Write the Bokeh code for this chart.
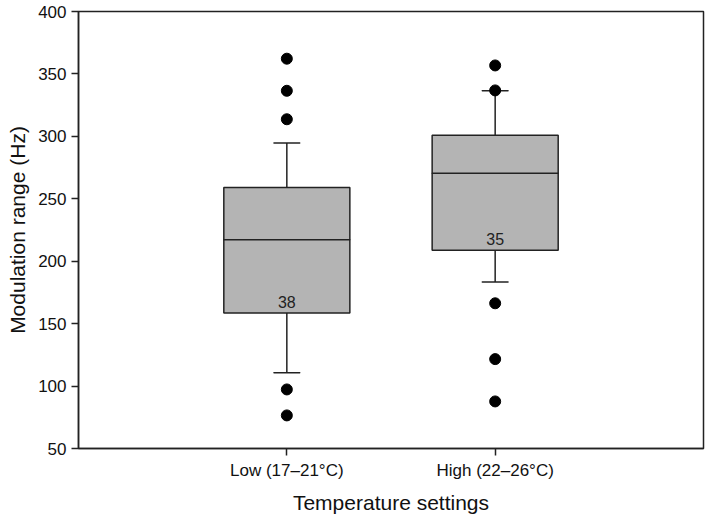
from bokeh.plotting import figure
from bokeh.models import ColumnDataSource, FixedTicker
from bokeh.core.properties import value
from bokeh.embed import file_html
from bokeh.resources import INLINE

categories = ["Low (17–21°C)", "High (22–26°C)"]
positions = [1, 2]
q1 = [158.6, 208.7]
median = [217.2, 270.5]
q3 = [259.0, 300.9]
whisker_low = [110.6, 183.4]
whisker_high = [294.7, 336.5]
outliers_low_group = [362.2, 336.5, 313.7, 97.3, 76.5]
outliers_high_group = [356.8, 336.8, 166.3, 121.6, 87.7]
n_labels = ["38", "35"]

FONT = "Liberation Sans"
LINE = "#222222"

p = figure(width=709, height=518, output_backend="svg", toolbar_location=None,
           x_range=(0, 3), y_range=(50, 400),
           min_border_left=78, min_border_right=6, min_border_top=11, min_border_bottom=70)

src = ColumnDataSource(dict(x=positions, q1=q1, med=median, q3=q3,
                            lo=whisker_low, hi=whisker_high, n=n_labels))

# whiskers
p.segment(x0="x", y0="q3", x1="x", y1="hi", source=src, line_color=LINE, line_width=1.5)
p.segment(x0="x", y0="lo", x1="x", y1="q1", source=src, line_color=LINE, line_width=1.5)
p.rect(x="x", y="hi", width=0.125, height=0.01, height_units="screen", source=src,
       line_color=LINE, line_width=1.5, fill_color=None)
p.rect(x="x", y="lo", width=0.125, height=0.01, height_units="screen", source=src,
       line_color=LINE, line_width=1.5, fill_color=None)
# boxes
p.vbar(x="x", bottom="q1", top="q3", width=0.605, source=src,
       fill_color="#b4b4b4", line_color=LINE, line_width=1.5)
p.rect(x="x", y="med", width=0.605, height=0.01, height_units="screen", source=src,
       line_color=LINE, line_width=1.5, fill_color=None)
# outliers
ox = [1] * len(outliers_low_group) + [2] * len(outliers_high_group)
oy = outliers_low_group + outliers_high_group
p.scatter(ox, oy, size=11, color="black")
# n labels
p.text(x="x", y="q1", text="n", source=src, text_align="center", text_baseline="bottom",
       y_offset=-5, text_font=value(FONT), text_font_size="16px", text_color="#222222")

p.xgrid.visible = False
p.ygrid.visible = False
p.outline_line_color = LINE
p.outline_line_width = 1.5
p.outline_line_alpha = 1

p.xaxis.ticker = FixedTicker(ticks=positions)
p.xaxis.major_label_overrides = {pos: c for pos, c in zip(positions, categories)}
p.yaxis.ticker = FixedTicker(ticks=list(range(50, 401, 50)))
p.xaxis.minor_tick_line_color = None
p.yaxis.minor_tick_line_color = None
for ax in (p.xaxis, p.yaxis):
    ax.axis_line_color = LINE
    ax.axis_line_width = 1.5
    ax.major_tick_line_color = LINE
    ax.major_tick_line_width = 1.5
    ax.major_tick_in = 0
    ax.major_tick_out = 7
    ax.major_label_text_font = FONT
    ax.major_label_text_font_size = "17px"
    ax.major_label_text_color = "#111111"
    ax.axis_label_text_font = FONT
    ax.axis_label_text_font_size = "21px"
    ax.axis_label_text_font_style = "normal"
    ax.axis_label_text_color = "#111111"
p.xaxis.axis_label = "Temperature settings"
p.yaxis.axis_label = "Modulation range (Hz)"
p.xaxis.major_label_standoff = 5
p.xaxis.axis_label_standoff = 8
p.yaxis.major_label_standoff = 5
p.yaxis.axis_label_standoff = 6

open("out.html", "w").write(file_html(p, INLINE))
